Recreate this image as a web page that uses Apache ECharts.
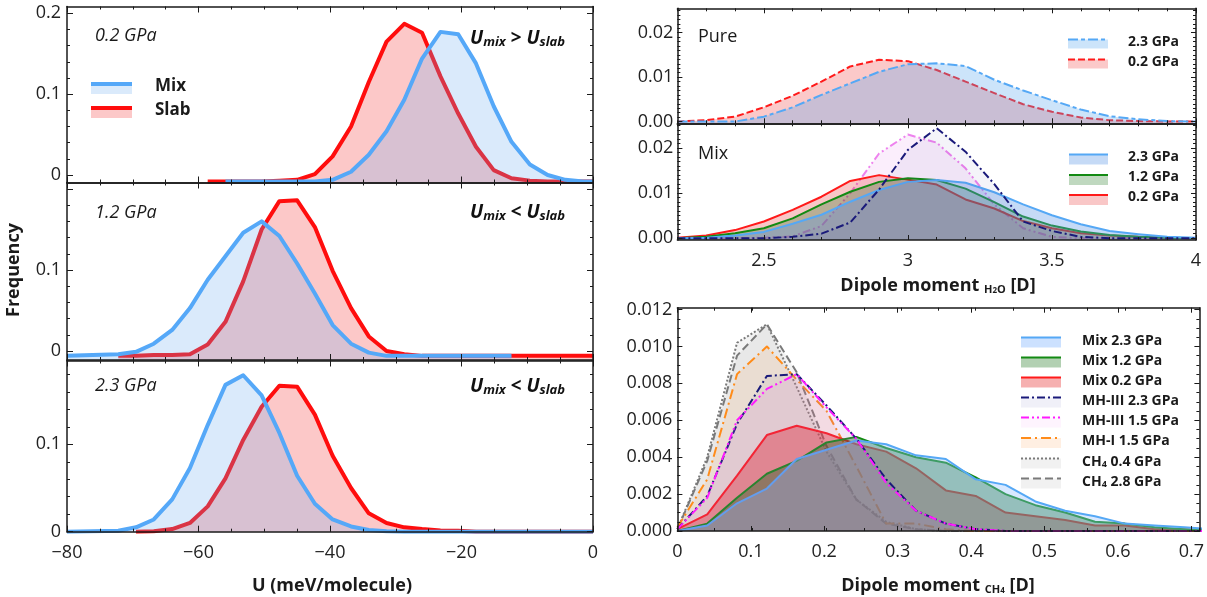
<!DOCTYPE html>
<html><head><meta charset="utf-8">
<script src="https://cdn.jsdelivr.net/npm/echarts@6/dist/echarts.min.js"></script>
<style>html,body{margin:0;padding:0;background:#fff}#c{width:1207px;height:597px}</style>
</head><body><div id="c"></div>
<script>
// ---------------- DATA ----------------
// Left: energy distributions U (meV/molecule)
const U_BINS = [-80.0, -72.2, -69.5, -66.8, -64.0, -61.3, -58.6, -55.9, -53.2, -50.4, -47.7, -45.0, -42.3, -39.6, -36.8, -34.1, -31.4, -28.7, -26.0, -23.2, -20.5, -17.8, -15.1, -12.4, -9.6, -6.9, -4.2, -1.5, 0.0];
const U02_SLAB = [null, null, null, null, null, null, -0.008, -0.008, -0.008, -0.008, -0.007, -0.006, 0.001, 0.023, 0.060, 0.115, 0.165, 0.187, 0.176, 0.122, 0.076, 0.035, 0.006, -0.004, -0.007, -0.008, -0.008, -0.008, -0.008];
const U02_MIX  = [null, null, null, null, null, null, null, -0.008, -0.008, -0.008, -0.008, -0.008, -0.008, -0.006, 0.004, 0.025, 0.054, 0.093, 0.144, 0.177, 0.174, 0.138, 0.085, 0.041, 0.013, 0.000, -0.006, -0.008, -0.008];
const U12_SLAB = [null, -0.006, -0.006, -0.005, -0.005, -0.004, 0.008, 0.036, 0.086, 0.150, 0.185, 0.186, 0.153, 0.099, 0.053, 0.018, 0.000, -0.004, -0.006, -0.006, -0.006, -0.006, -0.006, -0.006, -0.006, -0.006, -0.006, -0.006, -0.006];
const U12_MIX  = [-0.006, -0.004, -0.001, 0.009, 0.026, 0.053, 0.088, 0.117, 0.146, 0.160, 0.142, 0.108, 0.071, 0.032, 0.009, -0.002, -0.006, -0.006, -0.006, -0.006, -0.006, -0.006, -0.006, -0.006, null, null, null, null, null];
const U23_SLAB = [null, null, 0, 0.0005, 0.003, 0.010, 0.029, 0.061, 0.105, 0.143, 0.167, 0.166, 0.134, 0.087, 0.050, 0.021, 0.010, 0.005, 0.003, 0.0015, 0.001, 0, 0, 0, 0, 0, 0, 0, 0];
const U23_MIX  = [0, 0.001, 0.005, 0.014, 0.037, 0.073, 0.122, 0.168, 0.179, 0.156, 0.113, 0.064, 0.032, 0.014, 0.006, 0.002, 0.0005, 0, 0, 0, 0, 0, 0, 0, 0, 0, 0, 0, 0];

// Top right: H2O dipole moment (D)
const H2O_X = [2.2, 2.3, 2.4, 2.5, 2.6, 2.7, 2.8, 2.9, 3.0, 3.1, 3.2, 3.3, 3.4, 3.5, 3.6, 3.7, 3.8, 3.9, 4.0];
const PURE_02 = [0.0000, 0.0003, 0.0011, 0.0032, 0.0058, 0.0090, 0.0124, 0.0139, 0.0136, 0.0116, 0.0090, 0.0064, 0.0039, 0.0022, 0.0009, 0.0003, 0.0001, 0.0000, 0.0000];
const PURE_23 = [0.0000, 0.0000, 0.0000, 0.0011, 0.0032, 0.0060, 0.0086, 0.0112, 0.0129, 0.0131, 0.0125, 0.0094, 0.0070, 0.0048, 0.0027, 0.0012, 0.0005, 0.0001, 0.0000];
const MIXW_02 = [0.0001, 0.0006, 0.0018, 0.0037, 0.0063, 0.0092, 0.0127, 0.0140, 0.0130, 0.0119, 0.0086, 0.0066, 0.0038, 0.0022, 0.0011, 0.0006, 0.0003, 0.0001, 0.0000];
const MIXW_12 = [0.0000, 0.0003, 0.0011, 0.0022, 0.0044, 0.0075, 0.0103, 0.0125, 0.0133, 0.0129, 0.0110, 0.0080, 0.0048, 0.0028, 0.0015, 0.0007, 0.0003, 0.0001, 0.0000];
const MIXW_23 = [0.0000, 0.0001, 0.0006, 0.0014, 0.0032, 0.0052, 0.0081, 0.0107, 0.0125, 0.0129, 0.0123, 0.0102, 0.0075, 0.0051, 0.0031, 0.0016, 0.0009, 0.0003, 0.0001];
const MH3W_15 = [0, 0, 0, 0.0001, 0.0004, 0.0027, 0.0100, 0.0188, 0.0230, 0.0212, 0.0155, 0.0075, 0.0022, 0.0003, 0, 0, 0, 0, 0];
const MH3W_23 = [0, 0, 0, 0, 0.0003, 0.0010, 0.0035, 0.0108, 0.0196, 0.0244, 0.0192, 0.0120, 0.0037, 0.0016, 0.0003, 0, 0, 0, 0];

// Bottom right: CH4 dipole moment (D)
const CH4_X = [0, 0.04, 0.08, 0.12, 0.16, 0.20, 0.24, 0.28, 0.32, 0.36, 0.40, 0.44, 0.48, 0.52, 0.56, 0.60, 0.64, 0.68, 0.72];
const C_MIX_23 = [0, 0.0003, 0.0015, 0.0023, 0.0039, 0.0044, 0.0049, 0.0047, 0.0041, 0.0039, 0.0028, 0.0025, 0.0016, 0.0011, 0.0008, 0.0004, 0.0003, 0.0002, 0.0001];
const C_MIX_12 = [0, 0.0004, 0.0018, 0.0031, 0.0038, 0.0048, 0.0051, 0.0045, 0.0040, 0.0037, 0.0029, 0.0020, 0.0014, 0.0010, 0.0005, 0.0004, 0.0002, 0.0001, 0];
const C_MIX_02 = [0.0001, 0.0009, 0.0030, 0.0052, 0.0057, 0.0053, 0.0047, 0.0043, 0.0034, 0.0022, 0.0019, 0.0010, 0.0008, 0.0006, 0.0003, 0.0003, 0.0001, 0.0001, 0];
const C_MH3_23 = [0.0001, 0.0019, 0.0058, 0.0084, 0.0085, 0.0068, 0.0050, 0.0028, 0.0011, 0.0004, 0.0001, 0, 0, 0, 0, 0, 0, 0, 0];
const C_MH3_15 = [0.0001, 0.0018, 0.0060, 0.0077, 0.0085, 0.0067, 0.0050, 0.0026, 0.0011, 0.0004, 0.0001, 0, 0, 0, 0, 0, 0, 0, 0];
const C_MH1_15 = [0.0002, 0.0028, 0.0085, 0.0100, 0.0082, 0.0065, 0.0035, 0.0004, 0.0004, 0.0001, 0, 0, 0, 0, 0, 0, 0, 0, 0];
const C_CH4_04 = [0.0001, 0.0040, 0.0102, 0.0112, 0.0078, 0.0043, 0.0017, 0.0005, 0.0001, 0, 0, 0, 0, 0, 0, 0, 0, 0, 0];
const C_CH4_28 = [0.0001, 0.0038, 0.0095, 0.0112, 0.0086, 0.0046, 0.0017, 0.0004, 0.0001, 0, 0, 0, 0, 0, 0, 0, 0, 0, 0];

// ---------------- CHART ----------------
const FONT = '"Open Sans", "DejaVu Sans", sans-serif';
const INK = '#1a1a1a';
const AXIS_Z = 40;
const option = {animation: false, backgroundColor: '#fff', grid: [], xAxis: [], yAxis: [], series: [], graphic: []};

function addGrid(l, t, w, h) {
  option.grid.push({left: l, top: t, width: w, height: h, show: false, containLabel: false});
  return option.grid.length - 1;
}
function makePanel(r, xr, yr) {
  const gi = addGrid(r.l, r.t, r.w, r.h);
  const base = {type: 'value', gridIndex: gi, z: AXIS_Z, axisTick: {show: false}, axisLabel: {show: false}, splitLine: {show: false},
    axisLine: {show: true, onZero: false, lineStyle: {color: INK, width: 1.5}}};
  const xi = option.xAxis.length;
  option.xAxis.push(Object.assign({}, base, {min: xr[0], max: xr[1], position: 'bottom'}));
  option.xAxis.push(Object.assign({}, base, {min: xr[0], max: xr[1], position: 'top'}));
  const yi = option.yAxis.length;
  option.yAxis.push(Object.assign({}, base, {min: yr[0], max: yr[1], position: 'left'}));
  option.yAxis.push(Object.assign({}, base, {min: yr[0], max: yr[1], position: 'right'}));
  return {r, xr, yr, gi, xi, yi, n: 0};
}
function tickAxis(p, dim, from, to, step, len, label) {
  const r = p.r;
  let gi;
  if (dim === 'x') {
    const s = r.w / (p.xr[1] - p.xr[0]);
    gi = addGrid(r.l + (from - p.xr[0]) * s, r.t, (to - from) * s, r.h);
  } else {
    const s = r.h / (p.yr[1] - p.yr[0]);
    gi = addGrid(r.l, r.t + (p.yr[1] - to) * s, r.w, (to - from) * s);
  }
  const ax = (pos, lab) => ({type: 'value', gridIndex: gi, min: from, max: to, interval: step, position: pos, z: AXIS_Z,
    axisLine: {show: false, onZero: false}, splitLine: {show: false},
    axisTick: {show: true, inside: true, length: len, lineStyle: {color: INK, width: 1}},
    axisLabel: lab ? Object.assign({show: true, color: '#222', fontFamily: FONT, fontSize: 18, showMinLabel: true, showMaxLabel: true}, lab) : {show: false}});
  const hidden = {type: 'value', gridIndex: gi, min: 0, max: 1, show: false};
  if (dim === 'x') { option.xAxis.push(ax('bottom', label), ax('top', null)); option.yAxis.push(hidden); }
  else { option.yAxis.push(ax('left', label), ax('right', null)); option.xAxis.push(hidden); }
}
// each later series gets a higher z so its fill covers the lines of earlier series
function area(p, xs, ys, color, width, type, fill) {
  const data = [];
  xs.forEach((x, i) => { if (ys[i] !== null && ys[i] !== undefined) data.push([x, ys[i]]); });
  p.n += 1;
  option.series.push({type: 'line', xAxisIndex: p.xi, yAxisIndex: p.yi, data, symbol: 'none', showSymbol: false,
    clip: true, silent: true, z: 2 + p.n,
    lineStyle: {color, width, type: type || 'solid', join: 'round', cap: 'butt'},
    areaStyle: {color: fill, origin: 'start', opacity: 1}});
}

// ---- Left panels
const P1 = makePanel({l: 67, t: 6.5, w: 526, h: 176}, [-80, 0], [-0.0093, 0.2084]);
const P2 = makePanel({l: 67, t: 182.5, w: 526, h: 177.5}, [-80, 0], [-0.0111, 0.208]);
const P3 = makePanel({l: 67, t: 360.5, w: 526, h: 171.2}, [-80, 0], [0, 0.1959]);
const yfmtL = v => (Math.abs(v) < 1e-9 ? '0' : (v > 0.15 ? '' : v.toFixed(1)));
const yfmtL1 = v => (Math.abs(v) < 1e-9 ? '0' : v.toFixed(1));
[P1, P2, P3].forEach((p, k) => {
  tickAxis(p, 'x', -80, 0, 20, 6, k === 2 ? {margin: 12, formatter: v => (v < 0 ? '\u2212' + (-v) : '0')} : null);
  tickAxis(p, 'x', -80, 0, 5, 3, null);
  const top = k === 2 ? 0.1 : 0.2;
  tickAxis(p, 'y', 0, top, 0.1, 6, {margin: 6, formatter: k === 0 ? yfmtL1 : yfmtL});
  tickAxis(p, 'y', 0, k === 2 ? 0.18 : 0.2, 0.02, 3, null);
});
const L_RED = '#ff0d0d', L_RED_F = 'rgba(243,35,35,0.25)';
const L_BLUE = '#55a8f8', L_BLUE_F = 'rgba(108,172,240,0.25)';
[[P1, U02_SLAB, U02_MIX], [P2, U12_SLAB, U12_MIX], [P3, U23_SLAB, U23_MIX]].forEach(([p, s, m]) => {
  area(p, U_BINS, s, L_RED, 4, 'solid', L_RED_F);
  area(p, U_BINS, m, L_BLUE, 4, 'solid', L_BLUE_F);
});

// ---- Right panels
const RT = makePanel({l: 677.4, t: 8.3, w: 518.6, h: 115}, [2.2, 4.0], [-0.0004, 0.0255]);
const RM = makePanel({l: 677.4, t: 123.3, w: 518.6, h: 116.7}, [2.2, 4.0], [-0.0004, 0.0255]);
const RB = makePanel({l: 677.4, t: 307.7, w: 522, h: 223.3}, [0, 0.7], [0, 0.0121]);
[RT, RM].forEach((p, k) => {
  tickAxis(p, 'x', 2.5, 4.0, 0.5, 5, k === 1 ? {margin: 12} : null);
  tickAxis(p, 'x', 2.2, 4.0, 0.1, 3, null);
  tickAxis(p, 'y', 0, 0.02, 0.01, 5, {margin: 4, formatter: v => v.toFixed(2)});
  tickAxis(p, 'y', 0, 0.025, 0.001, 3, null);
});
tickAxis(RB, 'x', 0, 0.7, 0.1, 5, {margin: 12});
tickAxis(RB, 'x', 0, 0.7, 0.05, 3, null);
tickAxis(RB, 'y', 0, 0.012, 0.002, 5, {margin: 5, formatter: v => v.toFixed(3)});
tickAxis(RB, 'y', 0, 0.012, 0.0005, 3, null);

const C = {
  blue: '#55a8f5', green: '#138a13', red: '#ff1a1a', navy: '#1a1a7a', violet: '#ee82ee', magenta: '#ff1aff', orange: '#ff8c1a', gray: '#7a7a7a'
};
// Pure
area(RT, H2O_X, PURE_02, C.red, 2, [7, 3], 'rgba(235,10,10,0.22)');
area(RT, H2O_X, PURE_23, C.blue, 2, [10, 3, 4, 3], 'rgba(90,168,239,0.31)');
// Mix (H2O)
area(RM, H2O_X, MH3W_15, C.violet, 2, [8, 3, 2, 3, 2, 3], 'rgba(225,140,235,0.15)');
area(RM, H2O_X, MIXW_02, C.red, 2, 'solid', 'rgba(230,30,30,0.25)');
area(RM, H2O_X, MIXW_12, C.green, 2, 'solid', 'rgba(0,100,0,0.25)');
area(RM, H2O_X, MIXW_23, C.blue, 2, 'solid', 'rgba(90,150,230,0.35)');
area(RM, H2O_X, MH3W_23, C.navy, 2, [8, 3, 2, 3], 'rgba(60,60,150,0.06)');
// CH4
area(RB, CH4_X, C_CH4_04, C.gray, 2, [2, 2], 'rgba(160,160,160,0.12)');
area(RB, CH4_X, C_CH4_28, C.gray, 2, [8, 4], 'rgba(160,160,160,0.12)');
area(RB, CH4_X, C_MH1_15, C.orange, 2, [10, 4, 2, 4], 'rgba(255,150,60,0.12)');
area(RB, CH4_X, C_MIX_02, C.red, 2, 'solid', 'rgba(230,30,30,0.42)');
area(RB, CH4_X, C_MIX_12, C.green, 2, 'solid', 'rgba(0,100,0,0.4)');
area(RB, CH4_X, C_MIX_23, C.blue, 2, 'solid', 'rgba(143,188,255,0.35)');
area(RB, CH4_X, C_MH3_23, C.navy, 2, [8, 3, 2, 3], 'rgba(60,60,160,0.06)');
area(RB, CH4_X, C_MH3_15, C.magenta, 2, [8, 3, 2, 3, 2, 3], 'rgba(240,120,240,0.1)');

// ---- Text & legends (graphic)
const G = option.graphic;
function txt(x, y, text, font, extra) {
  G.push({type: 'text', x, y, z: 100, silent: true, style: Object.assign({text, font, fill: '#1a1a1a', align: 'left', verticalAlign: 'middle', textAlign: 'left', textVerticalAlign: 'middle'}, extra || {})});
}
function rich(x, y, text, richDef, extra) {
  G.push({type: 'text', x, y, z: 100, silent: true, style: Object.assign({text, rich: richDef, fill: '#1a1a1a', align: 'left', verticalAlign: 'middle', textAlign: 'left', textVerticalAlign: 'middle'}, extra || {})});
}
function swatch(x1, x2, y, h, stroke, lw, dash, fill) {
  G.push({type: 'rect', z: 99, silent: true, shape: {x: x1, y: y, width: x2 - x1, height: h}, style: {fill}});
  G.push({type: 'line', z: 100, silent: true, shape: {x1, y1: y, x2, y2: y}, style: {stroke, lineWidth: lw, lineDash: dash || null}});
}
// left panel labels
txt(95, 36, '0.2 GPa', 'italic 18px ' + FONT);
txt(95, 213, '1.2 GPa', 'italic 18px ' + FONT);
txt(95, 386, '2.3 GPa', 'italic 18px ' + FONT);
const Urich = {
  u: {font: 'bold italic 19px ' + FONT, fill: '#111', color: '#111', verticalAlign: 'bottom'},
  s: {font: 'bold italic 13px ' + FONT, fill: '#111', color: '#111', verticalAlign: 'bottom'}
};
rich(470, 39, '{u|U}{s|mix}{u| > U}{s|slab}', Urich);
rich(470, 213, '{u|U}{s|mix}{u| < U}{s|slab}', Urich);
rich(470, 387, '{u|U}{s|mix}{u| < U}{s|slab}', Urich);
// left legend
swatch(91, 132, 84, 10, L_BLUE, 4, null, L_BLUE_F);
swatch(91, 132, 108, 10, L_RED, 4, null, L_RED_F);
txt(155, 86, 'Mix', 'bold 17px ' + FONT);
txt(155, 110, 'Slab', 'bold 17px ' + FONT);
// axis titles
G.push({type: 'text', x: 14, y: 270, rotation: Math.PI / 2, z: 100, silent: true,
  style: {text: 'Frequency', font: 'bold 18px ' + FONT, fill: '#1a1a1a', align: 'center', verticalAlign: 'middle', textAlign: 'center', textVerticalAlign: 'middle'}});
txt(332, 586, 'U (meV/molecule)', 'bold 18px ' + FONT, {align: 'center', textAlign: 'center'});
const Drich = {
  b: {font: 'bold 18px ' + FONT, fill: '#1a1a1a', color: '#1a1a1a', verticalAlign: 'bottom'},
  s: {font: 'bold 11px ' + FONT, fill: '#1a1a1a', color: '#1a1a1a', verticalAlign: 'bottom'},
  ss: {font: 'bold 8px ' + FONT, fill: '#1a1a1a', color: '#1a1a1a', verticalAlign: 'bottom'}
};
rich(938, 286, '{b|Dipole moment }{s|H}{ss|2}{s|O}{b| [D]}', Drich, {align: 'center', textAlign: 'center'});
rich(938, 586, '{b|Dipole moment }{s|CH}{ss|4}{b| [D]}', Drich, {align: 'center', textAlign: 'center'});
// right panel labels
txt(698, 37, 'Pure', '18px ' + FONT);
txt(698, 154, 'Mix', '18px ' + FONT);
// top-right legend
swatch(1068, 1108, 39.5, 9, C.blue, 2, [10, 3, 4, 3], 'rgba(90,168,239,0.31)');
swatch(1068, 1108, 59.5, 9, C.red, 2, [7, 3], 'rgba(235,10,10,0.22)');
txt(1128, 42, '2.3 GPa', 'bold 14px ' + FONT);
txt(1128, 62, '0.2 GPa', 'bold 14px ' + FONT);
// mid legend
swatch(1069, 1108, 154.5, 10, C.blue, 2, null, 'rgba(90,150,230,0.35)');
swatch(1069, 1108, 175, 10, C.green, 2, null, 'rgba(0,100,0,0.25)');
swatch(1069, 1108, 195, 10, C.red, 2, null, 'rgba(230,30,30,0.25)');
txt(1128, 157.5, '2.3 GPa', 'bold 14px ' + FONT);
txt(1128, 177.5, '1.2 GPa', 'bold 14px ' + FONT);
txt(1128, 197.5, '0.2 GPa', 'bold 14px ' + FONT);
// bottom legend
const BL = [
  ['Mix 2.3 GPa', C.blue, null, 'rgba(143,188,255,0.45)'],
  ['Mix 1.2 GPa', C.green, null, 'rgba(0,100,0,0.3)'],
  ['Mix 0.2 GPa', C.red, null, 'rgba(230,30,30,0.35)'],
  ['MH-III 2.3 GPa', C.navy, [8, 3, 2, 3], 'rgba(60,60,160,0.08)'],
  ['MH-III 1.5 GPa', C.magenta, [8, 3, 2, 3, 2, 3], 'rgba(240,120,240,0.08)'],
  ['MH-I 1.5 GPa', C.orange, [10, 4, 2, 4], 'rgba(255,150,60,0.15)'],
  ['CH4 0.4 GPa', C.gray, [2, 2], 'rgba(160,160,160,0.15)'],
  ['CH4 2.8 GPa', C.gray, [8, 4], 'rgba(160,160,160,0.15)']
];
const BLY = [341, 361, 381, 401, 421, 441.5, 462, 482];
const Lrich = {
  b: {font: 'bold 14px ' + FONT, fill: '#1a1a1a', color: '#1a1a1a', verticalAlign: 'bottom'},
  s: {font: 'bold 9px ' + FONT, fill: '#1a1a1a', color: '#1a1a1a', verticalAlign: 'bottom'}
};
BL.forEach((e, i) => {
  swatch(1021, 1061, BLY[i] - 3.5, 10, e[1], 2, e[2], e[3]);
  if (e[0].startsWith('CH4')) rich(1082, BLY[i], '{b|CH}{s|4}{b|' + e[0].slice(3) + '}', Lrich);
  else txt(1082, BLY[i], e[0], 'bold 14px ' + FONT);
});

const chart = echarts.init(document.getElementById('c'), null, {renderer: 'canvas', width: 1207, height: 597});
chart.setOption(option);
</script></body></html>
